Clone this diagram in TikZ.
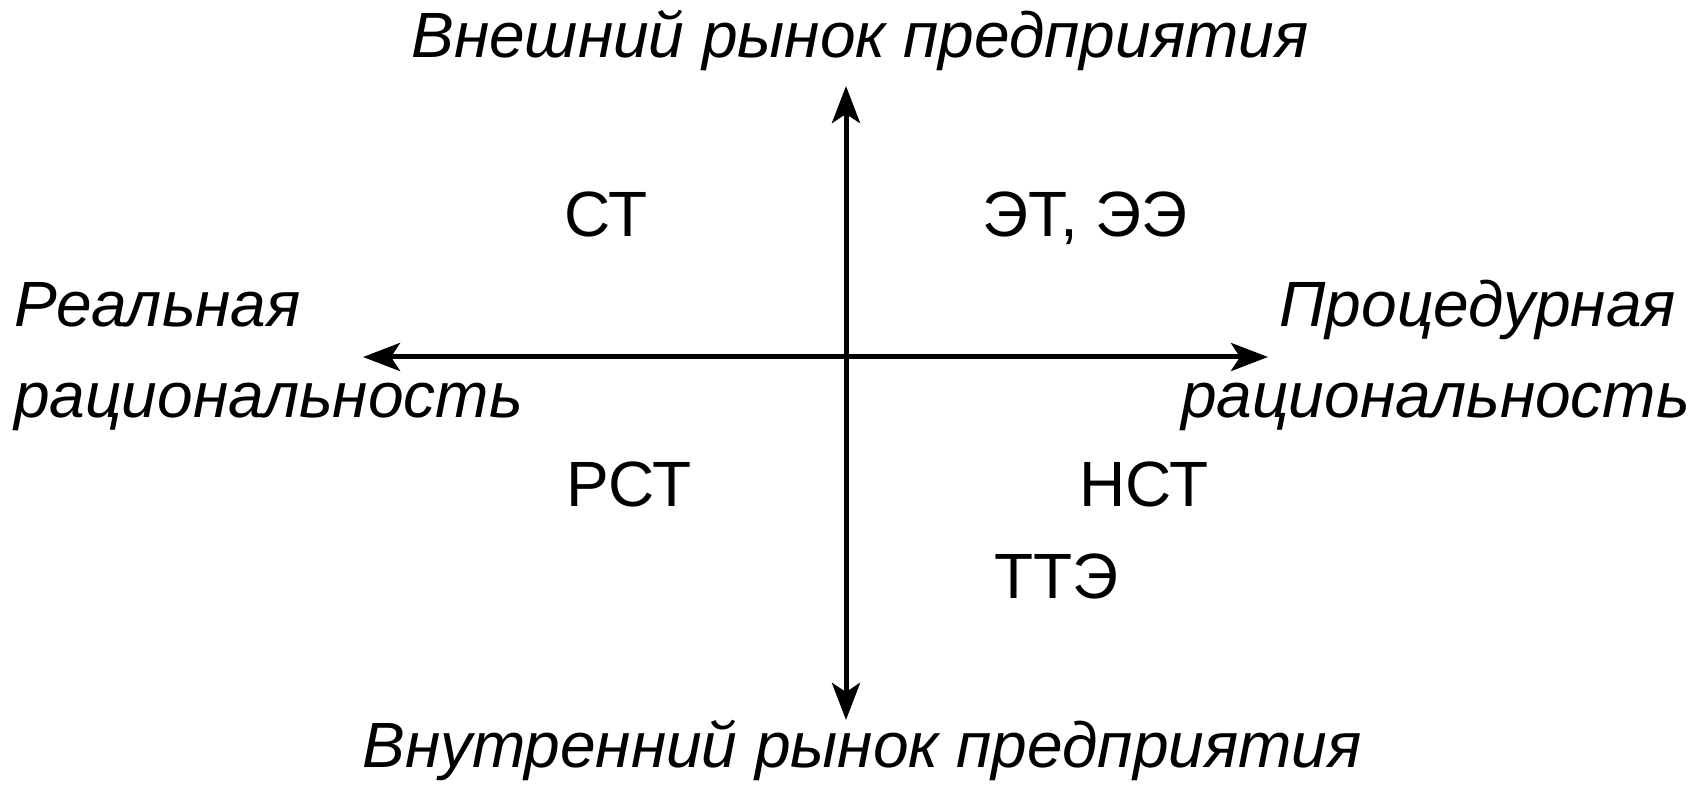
\documentclass[tikz,border=0pt]{standalone}
\usepackage{fontspec}
\setmainfont{Liberation Sans}
\usetikzlibrary{arrows.meta}
\tikzset{
  axis/.style={line width=5pt, {Stealth[length=37pt,width=28pt,inset=9pt]}-{Stealth[length=37pt,width=28pt,inset=9pt]}},
  axlabel/.style={inner sep=0pt, font=\fontsize{64}{90}\selectfont\itshape},
  qlabel/.style={inner sep=0pt, anchor=base west, font=\fontsize{64}{74}\selectfont}
}
\begin{document}
\begin{tikzpicture}[x=1pt,y=-1pt]
\useasboundingbox (0,0) rectangle (1706,786);
\coordinate (top) at (846,86);
\coordinate (bot) at (846,720);
\coordinate (left) at (363,357);
\coordinate (right) at (1268,357);
\draw[axis] (bot) -- (top);
\draw[axis] (left) -- (right);
\node[axlabel, anchor=base] (ext) at (860,58) {Внешний рынок предприятия};
\node[axlabel, anchor=base] (int) at (862,767) {Внутренний рынок предприятия};
\node[axlabel, anchor=base west, align=left] (real) at (14,417) {Реальная\\рациональность};
\node[axlabel, anchor=base east] (proc1) at (1676,327) {Процедурная};
\node[axlabel, anchor=base east] (proc2) at (1690,417) {рациональность};
\node[qlabel] (st) at (564,237) {СТ};
\node[qlabel] (et) at (982,237) {ЭТ, ЭЭ};
\node[qlabel] (rst) at (566,506) {РСТ};
\node[qlabel] (nst) at (1079,506) {НСТ};
\node[qlabel] (tte) at (994,598) {ТТЭ};
\end{tikzpicture}
\end{document}
